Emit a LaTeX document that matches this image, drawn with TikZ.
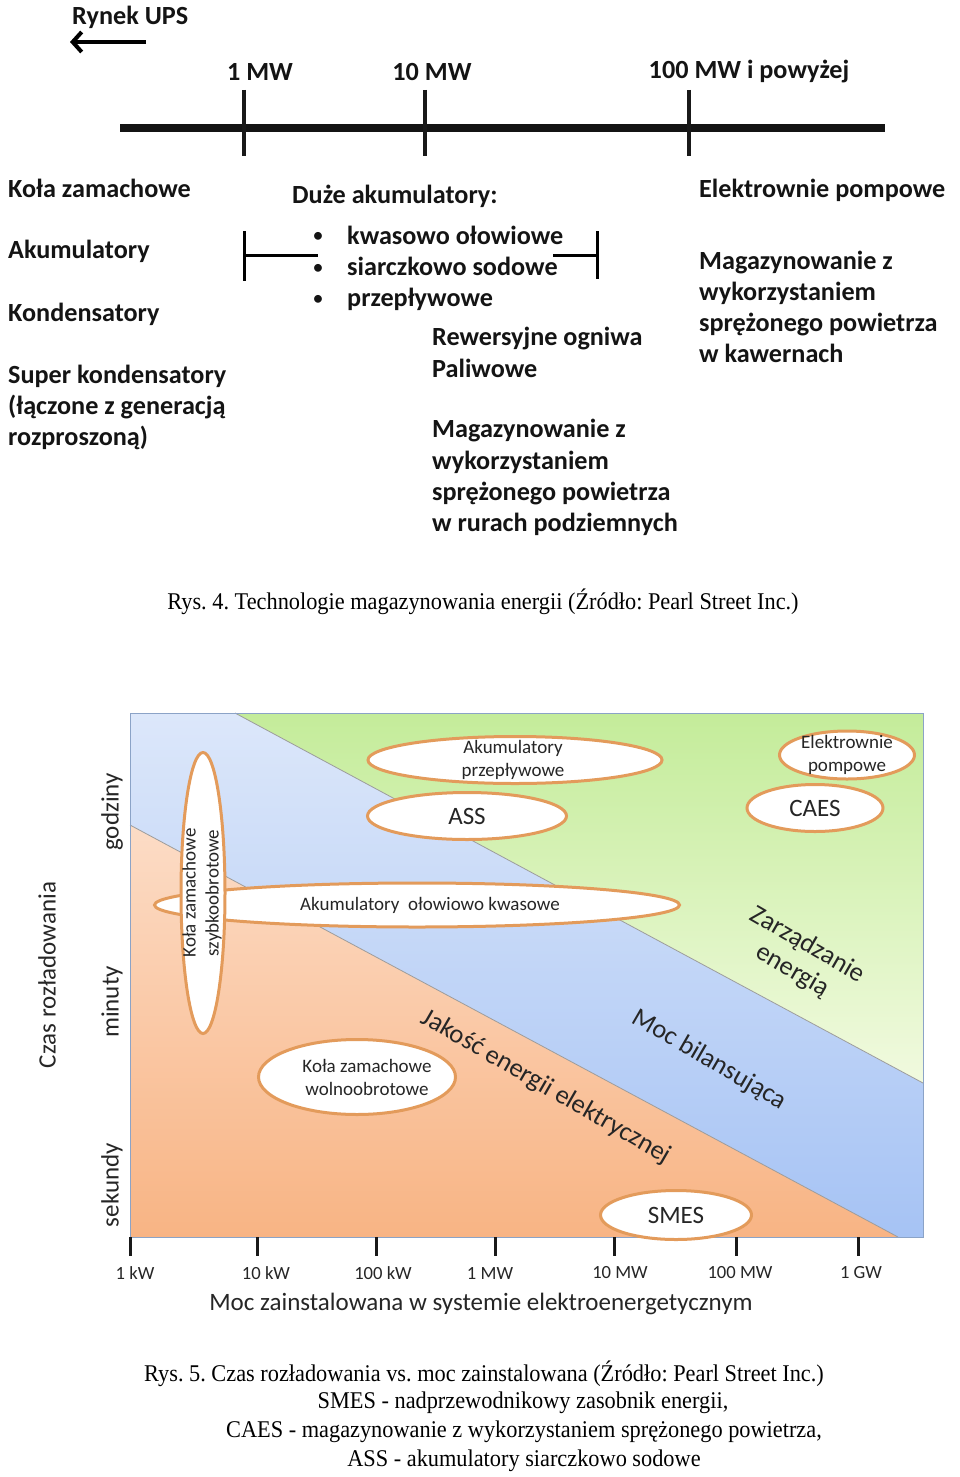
\documentclass[tikz,border=0pt]{standalone}
\usepackage{fontspec}
\setmainfont{Carlito}
\newfontfamily\capfont[FakeStretch=0.93]{Liberation Serif}
\usetikzlibrary{shapes.geometric,arrows.meta}
\frenchspacing
\definecolor{ovalc}{HTML}{E39B5B}
\definecolor{chtxt}{HTML}{262626}
\definecolor{bluetop}{HTML}{DCE7FA}
\definecolor{bluebot}{HTML}{A6C3F4}
\definecolor{greentop}{HTML}{C4EC9A}
\definecolor{greenbot}{HTML}{F1FADF}
\definecolor{orangetop}{HTML}{FCDCC6}
\definecolor{orangebot}{HTML}{F8B484}
\definecolor{framec}{HTML}{8BA3C7}
\definecolor{divc}{HTML}{9C9C9C}
\tikzset{
  toptxt/.style={font=\bfseries\fontsize{26.2}{31.2}\selectfont, anchor=west, align=left, inner sep=0pt, text=black!92},
  topc/.style={font=\bfseries\fontsize{26.2}{31.2}\selectfont, anchor=center, inner sep=0pt, text=black!92},
  bul/.style={font=\fontsize{22}{26}\selectfont, inner sep=0pt, text=black!92},
  captxt/.style={font=\capfont\fontsize{24}{29}\selectfont, inner sep=0pt, text=black},
  oval/.style={ellipse, draw=ovalc, line width=3pt, fill=white, inner sep=0pt},
  ovtxt/.style={font=\fontsize{19}{23}\selectfont, align=center, inner sep=0pt, text=chtxt},
  ovbig/.style={font=\fontsize{25}{28}\selectfont, align=center, inner sep=0pt, text=chtxt},
  diag/.style={font=\fontsize{26.5}{30}\selectfont, align=center, inner sep=0pt, text=chtxt, rotate=-30},
  ylab/.style={font=\fontsize{25}{28}\selectfont, inner sep=0pt, text=chtxt, rotate=90},
  xlab/.style={font=\fontsize{18.6}{22}\selectfont, inner sep=0pt, text=chtxt},
  thick4/.style={line width=4pt, draw=black!90},
}
\begin{document}
\begin{tikzpicture}[x=1pt,y=-1pt]
\useasboundingbox[fill=white] (0,0) rectangle (960,1477);

% ---------- upper figure ----------
\node[toptxt] (rynek) at (72,17) {Rynek UPS};
\coordinate (arrS) at (146,42);
\coordinate (arrE) at (70,42);
\draw[line width=4pt, -{Straight Barb[length=9pt,width=20pt]}] (arrS) -- (arrE);

\coordinate (axL) at (120,128);
\coordinate (axR) at (885,128);
\draw[line width=8pt, draw=black!92] (axL) -- (axR);
\foreach \n/\x in {a/244,b/425,c/689}{
  \coordinate (tk\n1) at (\x,90);
  \coordinate (tk\n2) at (\x,156);
  \draw[thick4] (tk\n1) -- (tk\n2);
}
\node[topc] (l1) at (260,72) {1 MW};
\node[topc] (l10) at (432,72) {10 MW};
\node[topc] (l100) at (749,72) {100 MW i powyżej};

\node[toptxt] (kz) at (8,188) {Koła zamachowe};
\node[toptxt] (ak) at (8,251) {Akumulatory};
\node[toptxt] (ko) at (8,314) {Kondensatory};
\node[toptxt] (sk) at (8,407.5) {Super kondensatory\\(łączone z generacją\\rozproszoną)};

\node[toptxt] (da) at (292,196) {Duże akumulatory:};
\node[bul] (b1) at (318,237) {•};
\node[bul] (b2) at (318,269) {•};
\node[bul] (b3) at (318,300) {•};
\node[toptxt] (dal) at (347,268.5) {kwasowo ołowiowe\\siarczkowo sodowe\\przepływowe};

\coordinate (brLa) at (244,231);
\coordinate (brLb) at (244,281);
\coordinate (brLm) at (244,255);
\coordinate (brLe) at (318,255);
\draw[line width=3pt] (brLa) -- (brLb) (brLm) -- (brLe);
\coordinate (brRa) at (597,231);
\coordinate (brRb) at (597,279);
\coordinate (brRm) at (597,255);
\coordinate (brRe) at (553,255);
\draw[line width=3pt] (brRa) -- (brRb) (brRm) -- (brRe);

\node[toptxt] (rew) at (432,352.5) {Rewersyjne ogniwa\\Paliwowe};
\node[toptxt] (mag1) at (432,477.5) {Magazynowanie z\\wykorzystaniem\\sprężonego powietrza\\w rurach podziemnych};
\node[toptxt] (ep) at (699,190) {Elektrownie pompowe};
\node[toptxt] (mag2) at (699,307) {Magazynowanie z\\wykorzystaniem\\sprężonego powietrza\\w kawernach};

\node[captxt] (cap4) at (483,602) {Rys. 4. Technologie magazynowania energii (Źródło: Pearl Street Inc.)};

% ---------- lower figure (chart) ----------
\shade[top color=bluetop, bottom color=bluebot]
  (130,713) -- (235,713) -- (923,1083) -- (923,1237) -- (898,1237) -- (130,825) -- cycle;
\shade[top color=greentop, bottom color=greenbot]
  (235,713) -- (923,713) -- (923,1083) -- cycle;
\shade[top color=orangetop, bottom color=orangebot]
  (130,825) -- (898,1237) -- (130,1237) -- cycle;
\draw[divc, line width=0.8pt] (235,713) -- (923,1083);
\draw[divc, line width=0.8pt] (130,825) -- (898,1237);
\draw[framec, line width=1pt] (130,713) rectangle (923,1237);

\node[oval, minimum width=294pt, minimum height=47pt] (apz) at (515,760) {};
\node[ovtxt] (apzt) at (513,760) {Akumulatory\\przepływowe};
\node[oval, minimum width=199pt, minimum height=47pt] (ass) at (467,816) {};
\node[ovbig] (asst) at (ass) {ASS};
\node[oval, minimum width=135pt, minimum height=48pt] (elp) at (847,755) {};
\node[ovtxt] (elpt) at (elp) {Elektrownie\\pompowe};
\node[oval, minimum width=136pt, minimum height=47pt] (caes) at (815,808) {};
\node[ovbig] (caest) at (caes) {CAES};
\node[oval, minimum width=525pt, minimum height=44pt] (aok) at (417,905) {};
\node[ovtxt] (aokt) at (430,905) {Akumulatory\ \ ołowiowo kwasowe};
\node[oval, rotate=90, minimum width=281pt, minimum height=44pt] (kzs) at (203,893) {};
\node[ovtxt, rotate=90] (kzst) at (202,893) {Koła zamachowe\\szybkoobrotowe};
\node[oval, minimum width=197pt, minimum height=75pt] (kzw) at (357,1077) {};
\node[ovtxt] (kzwt) at (367,1077) {Koła zamachowe\\wolnoobrotowe};
\node[oval, minimum width=151pt, minimum height=49pt] (smes) at (676,1215) {};
\node[ovbig] (smest) at (smes) {SMES};

\node[diag] (zar) at (800,958) {Zarządzanie\\energią};
\node[diag] (mb) at (709,1060) {Moc bilansująca};
\node[diag] (jee) at (546,1087) {Jakość energii elektrycznej};

\node[ylab] (yg) at (112,812) {godziny};
\node[ylab] (ym) at (112,1002) {minuty};
\node[ylab] (ys) at (112,1185) {sekundy};
\node[ylab] (yc) at (47,975) {Czas rozładowania};

\foreach \n/\x in {a/130,b/257,c/376,d/495,e/614,f/736,g/858}{
  \coordinate (xt\n1) at (\x,1237);
  \coordinate (xt\n2) at (\x,1256);
  \draw[line width=3pt, draw=black!90] (xt\n1) -- (xt\n2);
}
\node[xlab] (x1) at (135,1273) {1 kW};
\node[xlab] (x2) at (266,1273) {10 kW};
\node[xlab] (x3) at (383,1273) {100 kW};
\node[xlab] (x4) at (490,1273) {1 MW};
\node[xlab] (x5) at (620,1273) {10 MW};
\node[xlab] (x6) at (740,1273) {100 MW};
\node[xlab] (x7) at (861,1273) {1 GW};
\node[font=\fontsize{25}{28}\selectfont, inner sep=0pt, text=chtxt] (xt) at (481,1304) {Moc zainstalowana w systemie elektroenergetycznym};

\node[captxt] (cap5) at (484,1374) {Rys. 5. Czas rozładowania vs. moc zainstalowana (Źródło: Pearl Street Inc.)};
\node[captxt] (cap5b) at (523,1403) {SMES - nadprzewodnikowy zasobnik energii,};
\node[captxt] (cap5c) at (524,1432) {CAES - magazynowanie z wykorzystaniem sprężonego powietrza,};
\node[captxt] (cap5d) at (524,1461) {ASS - akumulatory siarczkowo sodowe};
\end{tikzpicture}
\end{document}
